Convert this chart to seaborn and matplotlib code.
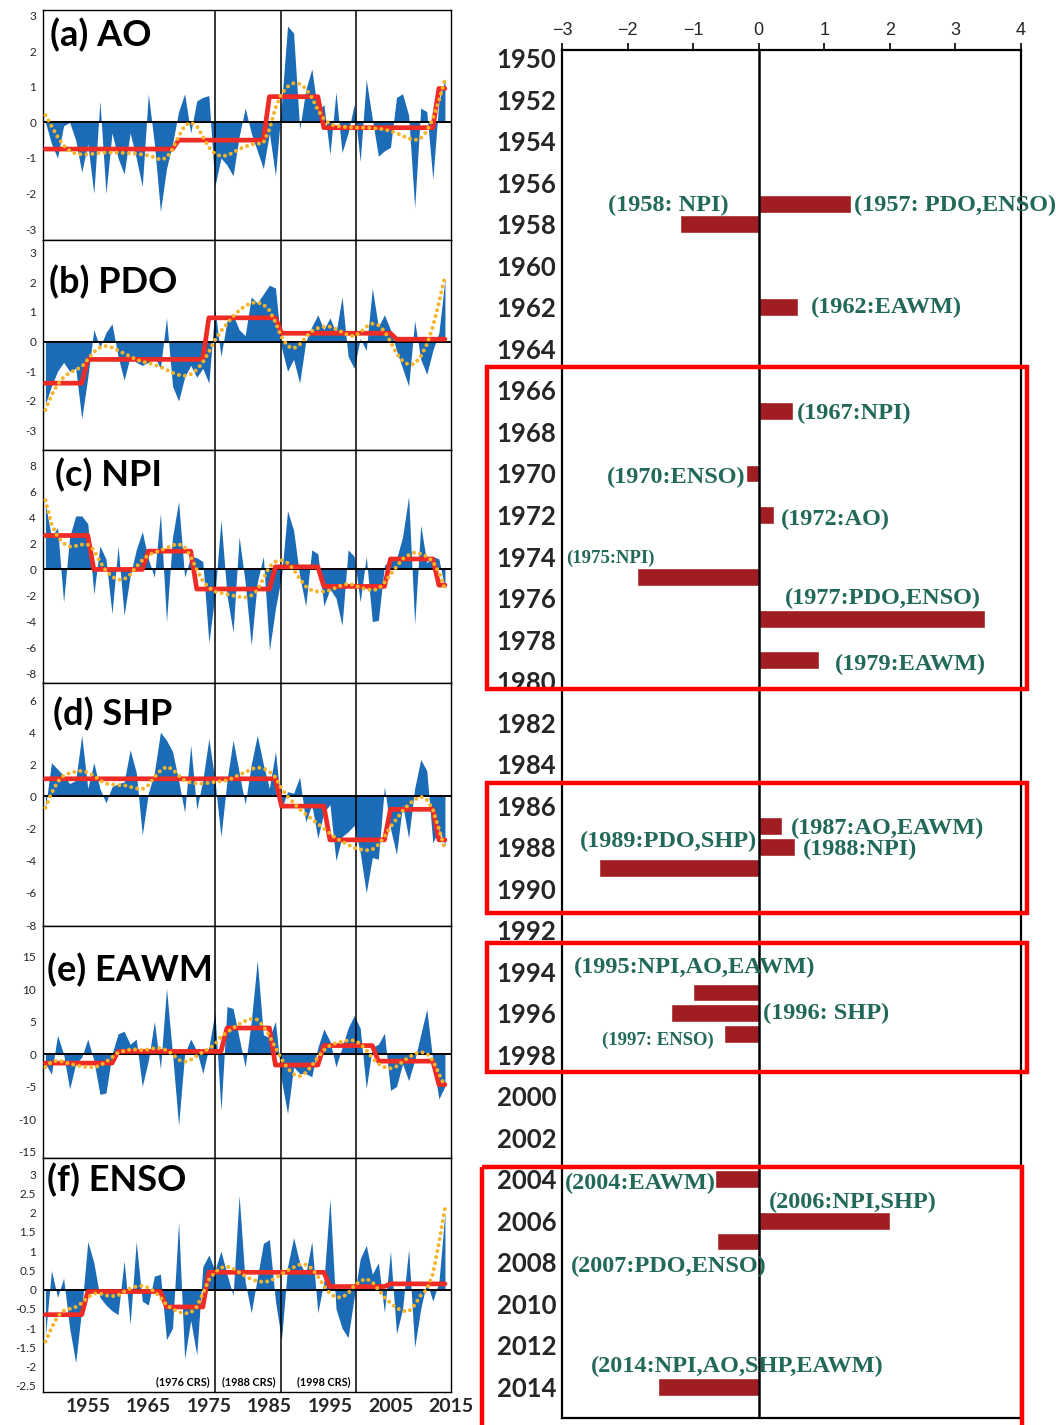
import numpy as np
import pandas as pd
import matplotlib
matplotlib.use("Agg")
import matplotlib.pyplot as plt
from matplotlib.patches import Rectangle
from matplotlib.ticker import FuncFormatter
import seaborn as sns

# ---------------- data ----------------
years = list(range(1948, 2015))

ao_index = [0.0, -0.6, -1.0, -0.1, 0.0, -0.5, -1.4, -0.6, -2.0, 0.6,
            -2.0, -0.3, -1.0, -1.45, -0.3, -1.0, -1.8, 0.8, -0.6, -2.5,
            -1.3, -0.6, 0.3, 0.8, -0.3, 0.6, 0.7, 0.75, -1.8, -1.0,
            -1.2, -1.5, -0.4, 0.4, -0.3, -0.8, -1.3, -0.3, -1.5, 0.5,
            2.7, 2.5, -0.2, 0.9, 1.5, 0.3, 0.5, -0.9, 0.85, -0.85,
            -0.3, 0.5, -1.1, 1.2, 0.1, -0.95, -0.8, -0.7, 0.7, 0.8,
            0.2, -2.4, 0.4, 0.3, -1.6, 0.6, 1.2]
ao_smooth = [0.2, -0.1, -0.4, -0.65, -0.8, -0.88, -0.9, -0.9, -0.88, -0.86,
             -0.85, -0.85, -0.85, -0.86, -0.87, -0.88, -0.9, -0.93, -0.98, -1.05,
             -1.0, -0.75, -0.4, -0.1, 0.0, -0.1, -0.4, -0.7, -0.88, -0.95,
             -0.93, -0.85, -0.75, -0.68, -0.62, -0.6, -0.58, -0.2, 0.4, 0.8,
             1.0, 1.1, 1.08, 0.95, 0.7, 0.35, 0.1, -0.05, -0.1, -0.12,
             -0.14, -0.15, -0.15, -0.15, -0.16, -0.18, -0.2, -0.25, -0.3, -0.38,
             -0.45, -0.5, -0.45, -0.25, 0.1, 0.6, 1.2]
ao_regime_starts = [1948, 1970, 1985, 1994, 2013]
ao_regime_means = [-0.75, -0.5, 0.72, -0.15, 0.95]

pdo_index = [-2.1, -1.5, -1.0, -0.7, -1.0, -0.9, -2.6, -1.2, 0.4, -0.2,
             0.3, 0.6, -0.5, -1.3, -0.5, -0.7, -0.8, -0.7, -0.5, -0.9,
             0.8, -1.5, -2.0, -1.2, -0.8, -1.2, -0.9, -1.4, 1.1, -0.5,
             0.7, 0.9, 0.4, 0.2, 1.5, 1.3, 1.6, 1.9, 1.8, -0.2,
             -1.0, -0.6, -1.4, 0.0, 0.5, 0.9, 0.4, 0.8, 0.3, 1.5,
             -0.5, -0.9, 0.1, -0.3, 1.8, 0.5, 0.9, 0.4, -0.3, -0.9,
             -1.5, 0.7, -0.6, -1.1, -0.3, 0.3, 2.1]
pdo_smooth = [-2.3, -1.8, -1.45, -1.2, -1.05, -0.95, -0.85, -0.6, -0.35, -0.2,
              -0.15, -0.2, -0.3, -0.4, -0.5, -0.6, -0.68, -0.72, -0.78, -0.85,
              -0.95, -1.05, -1.12, -1.15, -1.1, -0.95, -0.7, -0.35, 0.05, 0.35,
              0.6, 0.85, 1.05, 1.2, 1.3, 1.32, 1.25, 1.05, 0.65, 0.15,
              -0.15, -0.23, -0.1, 0.15, 0.35, 0.45, 0.5, 0.5, 0.42, 0.32,
              0.22, 0.18, 0.3, 0.5, 0.6, 0.55, 0.35, 0.0, -0.4, -0.65,
              -0.78, -0.75, -0.5, -0.1, 0.5, 1.3, 2.2]
pdo_regime_starts = [1948, 1955, 1975, 1987, 2006]
pdo_regime_means = [-1.4, -0.6, 0.8, 0.28, 0.08]

npi_index = [5.0, 2.5, 3.2, -2.5, 2.5, 4.1, 4.1, 3.5, -1.9, 1.8,
             0.8, -3.4, 1.8, -3.5, -0.5, 1.5, 2.9, 0.8, -0.6, 4.3,
             -4.0, 2.5, 5.2, -0.6, 1.0, 0.9, 0.6, -5.6, -2.0, 3.8,
             -2.0, -4.8, 2.5, -1.0, -5.8, -1.0, 1.0, -6.2, -3.0, -0.5,
             4.5, 3.0, -0.5, -2.8, 1.5, 1.2, -2.8, -1.5, -2.2, -4.3,
             1.5, 1.0, -2.5, 1.0, -4.0, -3.9, 0.3, 0.8, 0.8, 2.5,
             5.6, -4.2, 3.4, 0.5, 1.0, 0.8, -1.5]
npi_smooth = [5.3, 3.5, 2.5, 2.0, 1.75, 1.8, 1.9, 1.9, 1.5, 0.6,
              -0.1, -0.55, -0.8, -0.75, -0.4, 0.2, 0.7, 1.1, 1.3, 1.45,
              1.65, 1.85, 1.95, 1.7, 1.0, 0.0, -0.9, -1.4, -1.7, -1.8,
              -1.9, -2.0, -2.1, -2.15, -2.0, -1.6, -0.7, 0.2, 0.6, 0.7,
              0.5, 0.0, -0.7, -1.3, -1.6, -1.7, -1.7, -1.6, -1.4, -1.2,
              -1.1, -1.2, -1.4, -1.5, -1.6, -1.5, -1.0, -0.4, 0.2, 0.8,
              1.1, 1.3, 1.2, 1.0, 0.6, -0.2, -1.5]
npi_regime_starts = [1948, 1956, 1965, 1973, 1986, 1994, 2005, 2013]
npi_regime_means = [2.6, 0.0, 1.4, -1.5, 0.2, -1.3, 0.8, -1.2]

shp_index = [-0.7, 2.1, 1.7, 1.3, 0.8, 1.0, 3.8, 0.5, 2.1, 0.5,
             -0.4, 0.6, 0.8, 0.9, 2.9, 1.5, -2.4, 0.2, 1.5, 4.0,
             3.5, 2.8, 1.0, -1.0, 3.2, -0.8, 1.0, 3.6, 1.0, -2.5,
             1.0, 3.5, 1.5, -0.5, 2.0, 3.8, 2.0, 0.5, 2.8, -0.8,
             0.3, 0.2, 1.2, -1.6, -0.5, -2.6, -1.0, -0.5, -4.0, -2.5,
             -2.2, -1.8, -3.5, -6.0, -3.8, -3.9, 0.6, -2.0, -3.6, -0.5,
             -2.6, 0.5, 2.3, 1.6, -2.9, -2.0, -3.0]
shp_smooth = [-0.7, 0.2, 0.9, 1.3, 1.45, 1.55, 1.6, 1.5, 1.3, 1.0,
              0.8, 0.75, 0.7, 0.7, 0.6, 0.5, 0.45, 0.7, 1.2, 1.6,
              1.85, 1.7, 1.3, 1.0, 0.85, 0.8, 0.8, 0.85, 0.9, 0.95,
              1.0, 1.15, 1.35, 1.5, 1.7, 1.8, 1.75, 1.55, 1.2, 0.5,
              0.0, -0.4, -0.8, -1.1, -1.4, -1.7, -2.0, -2.3, -2.6, -2.8,
              -3.0, -3.2, -3.3, -3.35, -3.3, -3.0, -2.5, -1.9, -1.4, -0.9,
              -0.5, -0.2, 0.0, -0.2, -0.8, -2.0, -3.3]
shp_regime_starts = [1948, 1987, 1995, 2005, 2013]
shp_regime_means = [1.1, -0.6, -2.7, -0.8, -2.7]

eawm_index = [-1.5, -3.1, 2.9, 0.0, -5.4, -1.5, -0.5, 2.3, -1.0, -6.2,
              -6.0, 0.0, 3.1, 3.5, 1.5, 2.3, -5.0, -1.0, 5.0, -2.3,
              10.1, 0.0, -11.0, 0.0, 2.3, 0.5, -3.0, 1.0, 6.4, -8.7,
              7.3, 7.0, 2.5, -2.0, 5.0, 14.4, 3.0, 2.5, 5.0, -4.0,
              -9.2, -2.0, -3.0, -3.0, -3.5, 1.0, 3.85, 2.0, -2.0, 1.0,
              4.0, 5.9, 4.0, -5.3, 1.0, 1.5, 3.2, -5.6, -5.0, -1.5,
              -4.1, -1.0, 3.0, 6.9, -1.0, -6.9, -5.0]
eawm_smooth = [-2.0, -1.2, -1.0, -1.2, -1.5, -1.7, -1.9, -2.0, -2.05, -1.8,
               -1.2, -0.5, 0.2, 0.5, 0.7, 0.7, 0.6, 0.7, 0.9, 0.9,
               0.6, 0.0, -0.9, -1.2, -0.9, -0.3, 0.3, 0.8, 1.5, 2.7,
               3.3, 4.0, 4.6, 5.1, 5.4, 5.3, 4.3, 2.8, 1.0, -0.8,
               -2.2, -3.1, -3.4, -2.9, -1.8, -0.5, 0.6, 1.3, 1.7, 1.9,
               2.1, 2.1, 1.6, 0.6, -0.6, -1.5, -2.0, -2.2, -1.9, -1.2,
               -0.5, 0.0, 0.3, 0.1, -1.0, -3.0, -5.0]
eawm_regime_starts = [1948, 1960, 1978, 1986, 1994, 2003, 2013]
eawm_regime_means = [-1.4, 0.4, 4.0, -1.7, 1.3, -1.1, -4.7]

enso_index = [-1.2, 0.5, -0.2, 0.3, -1.0, -1.9, -0.5, 1.25, 0.7, -0.2,
              -0.4, -0.55, -0.65, 0.75, -0.9, 1.25, -0.3, -0.4, 0.35, 0.4,
              -1.3, -1.0, 1.75, -1.8, -0.8, -1.7, 0.6, 0.9, 0.5, 1.0,
              0.4, -0.15, 2.45, 0.2, -0.6, 0.3, 1.2, 1.3, -0.3, -1.3,
              0.6, 1.35, 0.7, 0.4, 1.25, -0.6, 0.2, 2.35, -0.5, -1.0,
              -1.25, -0.2, 0.8, 1.15, 0.4, 0.7, -0.6, 1.0, -1.15, -0.5,
              1.05, -1.5, -0.5, 0.2, -0.3, 0.2, 2.0]
enso_smooth = [-1.35, -1.0, -0.7, -0.55, -0.5, -0.45, -0.35, -0.2, -0.1, -0.1,
               -0.15, -0.17, -0.15, -0.05, 0.03, 0.08, 0.1, 0.05, -0.05, -0.2,
               -0.4, -0.5, -0.58, -0.62, -0.6, -0.45, -0.1, 0.25, 0.45, 0.57,
               0.6, 0.55, 0.45, 0.35, 0.27, 0.22, 0.2, 0.22, 0.3, 0.4,
               0.5, 0.58, 0.65, 0.65, 0.55, 0.35, 0.1, -0.1, -0.2, -0.2,
               -0.1, 0.1, 0.22, 0.28, 0.2, 0.0, -0.2, -0.35, -0.48, -0.55,
               -0.57, -0.4, -0.15, 0.0, 0.4, 1.2, 2.1]
enso_regime_starts = [1948, 1955, 1968, 1975, 1995, 2005]
enso_regime_means = [-0.65, -0.05, -0.45, 0.45, 0.08, 0.15]

panel_titles = ["(a) AO", "(b) PDO", "(c) NPI", "(d) SHP", "(e) EAWM", "(f) ENSO"]
crs_labels = ["(1976 CRS)", "(1988 CRS)", "(1998 CRS)"]
x_tick_years = [1955, 1965, 1975, 1985, 1995, 2005, 2015]

shift_years = [1957, 1958, 1962, 1967, 1970, 1972, 1975, 1977, 1979,
               1987, 1988, 1989, 1995, 1996, 1997, 2004, 2006, 2007, 2014]
shift_values = [1.4, -1.2, 0.6, 0.52, -0.2, 0.24, -1.85, 3.45, 0.92,
                0.35, 0.56, -2.44, -1.0, -1.34, -0.53, -0.66, 2.0, -0.64, -1.54]
shift_labels = ["(1958: NPI)", "(1957: PDO,ENSO)", "(1962:EAWM)", "(1967:NPI)",
                "(1970:ENSO)", "(1972:AO)", "(1975:NPI)", "(1977:PDO,ENSO)",
                "(1979:EAWM)", "(1987:AO,EAWM)", "(1988:NPI)", "(1989:PDO,SHP)",
                "(1995:NPI,AO,EAWM)", "(1996: SHP)", "(1997: ENSO)", "(2004:EAWM)",
                "(2006:NPI,SHP)", "(2007:PDO,ENSO)", "(2014:NPI,AO,SHP,EAWM)"]

# ---------------- layout / style ----------------
label_layout = [  # (x, y, ha, fontsize)
    (-0.46, 1957.1, "right", 17.5), (1.45, 1957.1, "left", 17.5), (0.79, 1962.0, "left", 17.5),
    (0.58, 1967.1, "left", 17.5), (-0.2, 1970.2, "right", 17.5), (0.34, 1972.2, "left", 17.5),
    (-2.93, 1974.1, "left", 13.5), (0.4, 1976.0, "left", 17.5), (1.16, 1979.2, "left", 17.5),
    (0.49, 1987.1, "left", 17.5), (0.67, 1988.1, "left", 17.5), (-0.02, 1987.75, "right", 17.5),
    (-2.82, 1993.8, "left", 17.5), (0.06, 1996.0, "left", 17.5), (-0.69, 1997.3, "right", 13.5),
    (-0.66, 2004.2, "right", 17.5), (0.15, 2005.1, "left", 17.5), (-2.87, 2008.2, "left", 17.5),
    (-2.56, 2013.0, "left", 17.5)]
highlight_boxes = [(-4.14, 4.09, 1964.88, 1980.38), (-4.14, 4.09, 1984.91, 1991.17),
                   (-4.14, 4.09, 1992.61, 1998.82), (-4.22, 4.02, 2003.39, 2017.5)]
crs_line_x = [1976.0, 1986.9, 1999.3]

W, H = 1056, 1425
panel_px = [(10, 240), (240, 450), (450, 683), (683, 926), (926, 1158), (1158, 1392)]
panel_ylims = [(-3.3, 3.15), (-3.65, 3.42), (-8.7, 9.15), (-8.06, 7.06), (-16.0, 19.7), (-2.66, 3.42)]
panel_yticks = [np.arange(-3, 4, 1), np.arange(-3, 4, 1), np.arange(-8, 9, 2),
                np.arange(-8, 7, 2), np.arange(-15, 16, 5), np.arange(-2.5, 3.01, 0.5)]
title_offsets = [(7, 8), (6, 25), (12, 8), (10, 14), (4, 27), (4, 5)]

series = [(ao_index, ao_smooth, ao_regime_starts, ao_regime_means),
          (pdo_index, pdo_smooth, pdo_regime_starts, pdo_regime_means),
          (npi_index, npi_smooth, npi_regime_starts, npi_regime_means),
          (shp_index, shp_smooth, shp_regime_starts, shp_regime_means),
          (eawm_index, eawm_smooth, eawm_regime_starts, eawm_regime_means),
          (enso_index, enso_smooth, enso_regime_starts, enso_regime_means)]


def regime_series(starts, means):
    out = []
    for y in years:
        idx = max(i for i, s in enumerate(starts) if s <= y)
        out.append(means[idx])
    return out


sns.set_theme(style="white")
plt.rcParams["font.family"] = ["Lato", "DejaVu Sans"]
plt.rcParams["axes.unicode_minus"] = True

BLUE = "#1c6bb6"
RED = "#ee2b24"
ORANGE = "#f6b42a"
BAR = "#a01d21"
TEAL = "#22695a"

fig = plt.figure(figsize=(W / 100, H / 100), dpi=100)
fig.patch.set_facecolor("white")

left_px, right_px = 43, 451
for i, ((vals, smooth, starts, means), (top, bot)) in enumerate(zip(series, panel_px)):
    ax = fig.add_axes([left_px / W, 1 - bot / H, (right_px - left_px) / W, (bot - top) / H])
    df = pd.DataFrame({"year": years, "value": vals, "smooth": smooth,
                       "regime": regime_series(starts, means)})
    ax.fill_between(df["year"], df["value"], 0, color=BLUE, lw=0, zorder=2)
    ax.axhline(0, color="black", lw=1.4, zorder=3)
    for xv in crs_line_x:
        ax.axvline(xv, color="black", lw=1.1, zorder=3)
    sns.lineplot(data=df, x="year", y="regime", ax=ax, color=RED, lw=3.4, zorder=4)
    sns.lineplot(data=df, x="year", y="smooth", ax=ax, color=ORANGE, lw=2.9,
                 linestyle=(0, (0.01, 1.5)), dash_capstyle="round", zorder=5)
    ax.set_xlim(1947.6, 2015.0)
    ax.set_ylim(*panel_ylims[i])
    ax.set_yticks(panel_yticks[i])
    ax.yaxis.set_major_formatter(FuncFormatter(lambda v, p: f"{v:g}"))
    ax.tick_params(axis="y", length=0, pad=5, labelsize=8.5)
    ax.set_xlabel("")
    ax.set_ylabel("")
    for sp in ax.spines.values():
        sp.set_color("black")
        sp.set_linewidth(1.0)
    if i == len(series) - 1:
        ax.set_xticks(x_tick_years)
        ax.tick_params(axis="x", length=0, pad=4, labelsize=14)
        for lab in ax.get_xticklabels():
            lab.set_fontweight("bold")
        for xv, txt in zip(crs_line_x, crs_labels):
            ax.annotate(txt, xy=(xv, 0.045), xycoords=("data", "axes fraction"),
                        xytext=(-5, 0), textcoords="offset pixels", ha="right", va="center",
                        fontsize=7.8, fontweight="bold", color="black")
    else:
        ax.set_xticks(x_tick_years)
        ax.tick_params(axis="x", length=0, labelbottom=False)
    dx, dy = title_offsets[i]
    ax.annotate(panel_titles[i], xy=(0, 1), xycoords="axes fraction",
                xytext=(dx, -dy), textcoords="offset pixels", ha="left", va="top",
                fontsize=26, fontweight="bold", color="black", zorder=6)

# ---------------- right panel ----------------
rx0, rx1, ry0, ry1 = 562, 1021, 50, 1418
ax2 = fig.add_axes([rx0 / W, 1 - ry1 / H, (rx1 - rx0) / W, (ry1 - ry0) / H])
bars = pd.DataFrame({"year": shift_years, "shift": shift_values})
sns.barplot(data=bars, x="shift", y="year", orient="h", native_scale=True,
            color=BAR, saturation=1, width=0.86, errorbar=None, ax=ax2, zorder=3)
ax2.axvline(0, color="black", lw=1.8, zorder=4)
ax2.set_xlim(-3, 4)
ax2.set_ylim(2015.5, 1949.6)
ax2.xaxis.tick_top()
ax2.set_xticks(range(-3, 5))
ax2.set_yticks(range(1950, 2015, 2))
ax2.set_xlabel("")
ax2.set_ylabel("")
ax2.tick_params(axis="x", top=True, direction="out", length=5, width=1.2, pad=3,
                labelsize=13, color="black")
ax2.tick_params(axis="y", length=0, pad=4, labelsize=18.5)
for lab in ax2.get_xticklabels():
    lab.set_fontfamily(["Liberation Sans", "DejaVu Sans"])
for lab in ax2.get_yticklabels():
    lab.set_fontweight("bold")
for sp in ax2.spines.values():
    sp.set_color("black")
    sp.set_linewidth(1.6)

for txt, (x, y, ha, fs) in zip(shift_labels, label_layout):
    ax2.text(x, y, txt, ha=ha, va="center", fontsize=fs, fontweight="bold",
             family=["Liberation Serif", "DejaVu Serif"], color=TEAL, clip_on=False, zorder=5)

for (x0, x1, y0, y1) in highlight_boxes:
    ax2.add_patch(Rectangle((x0, y0), x1 - x0, y1 - y0, fill=False, ec="#ff0000",
                            lw=3.2, clip_on=False, zorder=6))

fig.savefig("out.png", dpi=100, facecolor="white")
